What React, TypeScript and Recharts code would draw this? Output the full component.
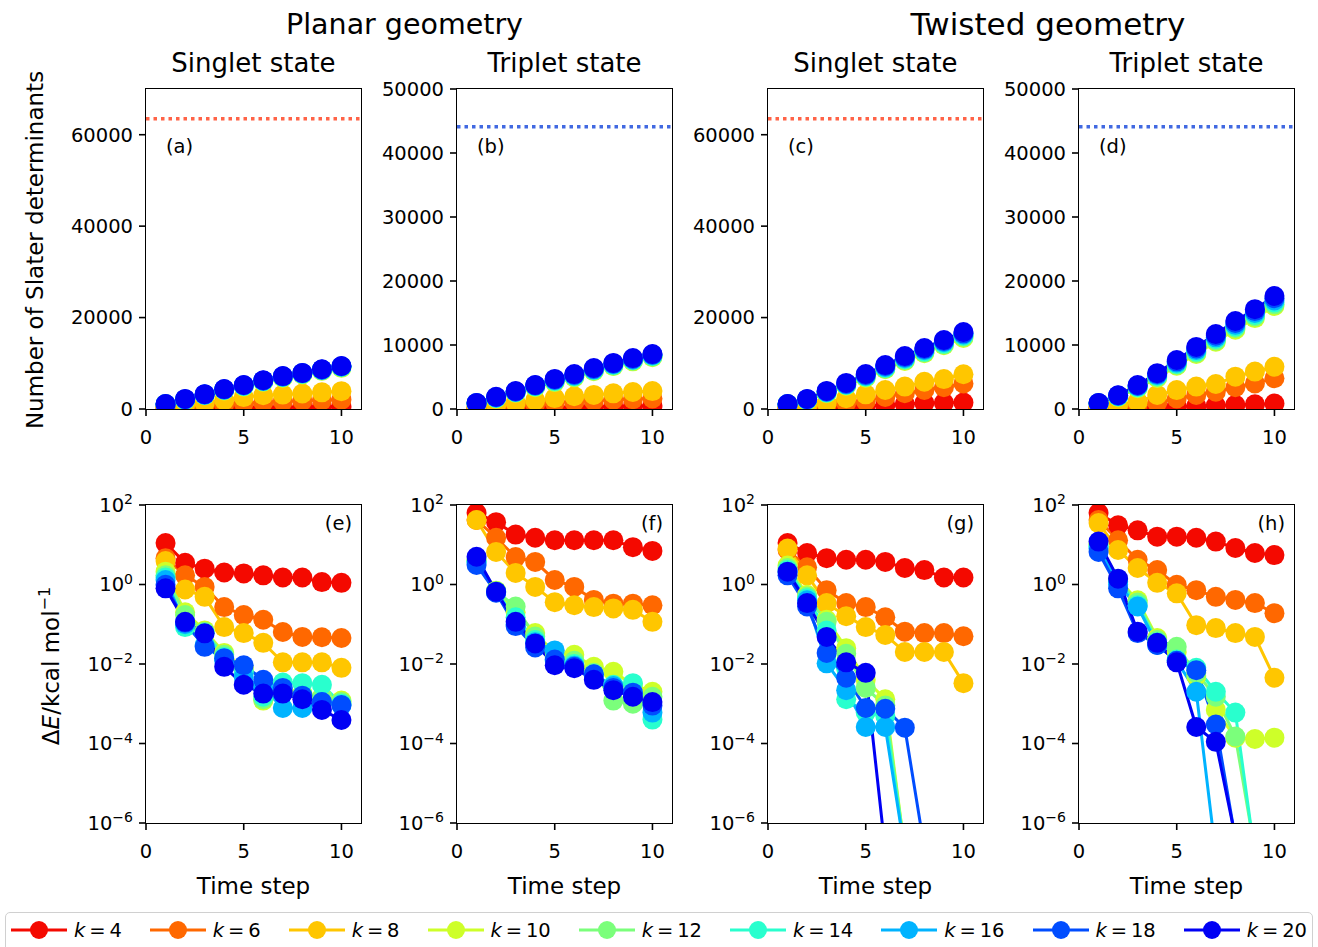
import React from 'react';
import { LineChart, Line, XAxis, YAxis, ReferenceLine } from 'recharts';

const steps = [1, 2, 3, 4, 5, 6, 7, 8, 9, 10];
const kValues = [4, 6, 8, 10, 12, 14, 16, 18, 20];
const kColors = ['#f40900', '#ff6800', '#ffc600', '#ceff29', '#7bff7b', '#29ffce', '#00b3ff', '#004dff', '#0000f4'];

// number of Slater determinants, one row per k (4..20)
const planarSingletDets = [
  [100, 150, 200, 250, 300, 350, 400, 450, 500, 550],
  [300, 550, 800, 1050, 1300, 1500, 1650, 1800, 1950, 2050],
  [500, 900, 1300, 1950, 2600, 3000, 3150, 3400, 3650, 3900],
  [1000, 1950, 3000, 4050, 4900, 5950, 6850, 7550, 8350, 9000],
  [1020, 2000, 3050, 4150, 5000, 6050, 6950, 7650, 8450, 9150],
  [1040, 2050, 3100, 4200, 5100, 6150, 7050, 7750, 8550, 9250],
  [1060, 2100, 3150, 4250, 5150, 6200, 7100, 7800, 8600, 9300],
  [1080, 2150, 3200, 4300, 5200, 6250, 7150, 7850, 8650, 9350],
  [1100, 2200, 3250, 4350, 5250, 6300, 7200, 7900, 8700, 9400],
];
const planarTripletDets = [
  [50, 100, 150, 200, 250, 300, 350, 400, 450, 500],
  [200, 400, 600, 800, 1000, 1150, 1300, 1450, 1550, 1650],
  [300, 600, 950, 1350, 1700, 2000, 2200, 2450, 2650, 2800],
  [850, 1650, 2550, 3400, 4200, 4950, 5900, 6700, 7450, 8100],
  [870, 1700, 2600, 3500, 4300, 5050, 6000, 6800, 7550, 8200],
  [890, 1750, 2650, 3600, 4400, 5150, 6100, 6900, 7650, 8300],
  [910, 1800, 2700, 3650, 4500, 5250, 6200, 7000, 7750, 8400],
  [930, 1850, 2750, 3700, 4600, 5350, 6300, 7100, 7850, 8500],
  [950, 1900, 2800, 3750, 4700, 5450, 6400, 7200, 7950, 8600],
];
const twistedSingletDets = [
  [100, 200, 300, 450, 650, 850, 1100, 1300, 1350, 1400],
  [250, 500, 900, 1300, 1700, 2650, 3450, 4150, 4750, 5600],
  [350, 700, 1300, 2350, 3200, 4150, 4900, 5950, 6550, 7600],
  [1000, 1950, 3450, 5100, 6850, 8700, 10500, 12200, 13950, 15550],
  [1020, 2000, 3550, 5200, 7000, 8850, 10700, 12400, 14150, 15800],
  [1040, 2050, 3650, 5300, 7150, 9000, 10900, 12600, 14350, 16050],
  [1060, 2100, 3750, 5400, 7300, 9200, 11100, 12850, 14600, 16300],
  [1080, 2150, 3850, 5550, 7450, 9400, 11350, 13100, 14850, 16550],
  [1100, 2200, 3950, 5700, 7650, 9600, 11600, 13350, 15100, 16850],
];
const twistedTripletDets = [
  [80, 150, 220, 300, 380, 460, 550, 650, 750, 850],
  [200, 400, 700, 1000, 1650, 2200, 2700, 3400, 4000, 4800],
  [350, 650, 1150, 2200, 2950, 3500, 3900, 5050, 5850, 6600],
  [850, 1900, 3250, 4850, 6750, 8600, 10500, 12400, 14200, 16100],
  [870, 1950, 3350, 5000, 6900, 8800, 10700, 12650, 14450, 16350],
  [890, 2000, 3450, 5150, 7050, 9000, 10950, 12900, 14700, 16650],
  [910, 2050, 3550, 5300, 7250, 9200, 11200, 13150, 15000, 16950],
  [930, 2100, 3650, 5450, 7450, 9450, 11450, 13450, 15300, 17300],
  [950, 2150, 3750, 5600, 7650, 9700, 11700, 13750, 15600, 17650],
];

// energy error in kcal/mol, one row per k (4..20); null = below the plot
const planarSingletErr = [
  [11, 3.5, 2.5, 2.0, 1.9, 1.7, 1.5, 1.5, 1.15, 1.1],
  [4.6, 1.7, 0.87, 0.27, 0.17, 0.13, 0.064, 0.048, 0.047, 0.045],
  [3.9, 0.75, 0.49, 0.085, 0.06, 0.034, 0.011, 0.011, 0.011, 0.008],
  [2.1, 0.2, 0.07, 0.019, 0.008, 0.0012, 0.0022, 0.0018, 0.0015, 0.0012],
  [1.7, 0.17, 0.065, 0.017, 0.007, 0.0013, 0.002, 0.0017, 0.0014, 0.0011],
  [1.5, 0.085, 0.06, 0.015, 0.006, 0.0015, 0.0034, 0.0033, 0.003, 0.001],
  [1.3, 0.1, 0.03, 0.012, 0.0047, 0.0025, 0.00078, 0.00078, 0.0011, 0.0009],
  [0.98, 0.11, 0.027, 0.014, 0.0093, 0.004, 0.0025, 0.0016, 0.0011, 0.00093],
  [0.8, 0.115, 0.059, 0.0085, 0.003, 0.0018, 0.0018, 0.0013, 0.0007, 0.00039],
];
const planarTripletErr = [
  [63, 37, 18, 15, 13, 13, 13, 13, 8.7, 7],
  [42, 15, 4.9, 3.7, 1.3, 0.87, 0.41, 0.33, 0.33, 0.3],
  [42, 6.6, 1.96, 0.87, 0.36, 0.3, 0.27, 0.25, 0.23, 0.115],
  [4.2, 0.7, 0.2, 0.06, 0.019, 0.017, 0.0085, 0.0064, 0.003, 0.002],
  [4.0, 0.68, 0.28, 0.049, 0.015, 0.012, 0.006, 0.0012, 0.001, 0.0015],
  [3.8, 0.66, 0.15, 0.04, 0.012, 0.01, 0.005, 0.003, 0.0033, 0.0004],
  [3.5, 0.64, 0.1, 0.035, 0.022, 0.009, 0.0055, 0.0028, 0.0018, 0.0006],
  [3.1, 0.62, 0.09, 0.026, 0.013, 0.0085, 0.0055, 0.0025, 0.0019, 0.0009],
  [5.0, 0.66, 0.115, 0.033, 0.0093, 0.0078, 0.004, 0.0022, 0.0015, 0.0011],
];
const twistedSingletErr = [
  [11, 6.2, 4.6, 4.2, 4.2, 3.7, 2.6, 2.3, 1.5, 1.5],
  [7.4, 2.7, 0.72, 0.34, 0.27, 0.15, 0.065, 0.06, 0.06, 0.05],
  [8, 1.7, 0.34, 0.16, 0.085, 0.054, 0.02, 0.02, 0.02, 0.0033],
  [3.0, 0.55, 0.13, 0.025, 0.004, 0.0013, 2e-7, null, null, null],
  [2.6, 0.5, 0.115, 0.018, 0.0025, 0.0009, 2e-7, null, null, null],
  [2.3, 0.45, 0.07, 0.0013, 0.0006, 0.0005, 2e-7, null, null, null],
  [2.0, 0.4, 0.0104, 0.0022, 0.00026, 0.00026, 1.9e-7, null, null, null],
  [1.7, 0.28, 0.019, 0.0045, 0.00078, 0.00075, 0.00025, 2.3e-7, null, null],
  [2.1, 0.34, 0.048, 0.011, 0.006, 2e-7, null, null, null, null],
];
const twistedTripletErr = [
  [63, 31, 23, 16, 16, 15, 12, 8.3, 6.2, 5.5],
  [42, 13, 4.2, 2.3, 0.98, 0.72, 0.49, 0.41, 0.34, 0.19],
  [35, 7.4, 2.6, 1.1, 0.6, 0.095, 0.08, 0.06, 0.048, 0.0045],
  [10.5, 1.35, 0.4, 0.045, 0.02, 0.005, 0.0007, 0.00014, 0.00013, 0.00014],
  [10, 1.3, 0.35, 0.04, 0.027, 0.006, 0.0015, 0.00015, 2e-7, null],
  [9, 1.2, 0.3, 0.035, 0.013, 0.008, 0.002, 0.0006, 1.5e-7, null],
  [8, 1.0, 0.28, 0.03, 0.012, 0.002, 1.6e-7, null, null, null],
  [6.6, 0.8, 0.06, 0.03, 0.012, 0.007, 0.0003, 4e-7, null, null],
  [12, 1.4, 0.065, 0.034, 0.011, 0.00026, 0.00011, 4.4e-7, null, null],
];

const singletTotal = 63504;
const tripletTotal = 44100;
const singletTicks = [0, 20000, 40000, 60000];
const tripletTicks = [0, 10000, 20000, 30000, 40000, 50000];
const errTicks = [1e-6, 1e-4, 1e-2, 1, 100];
const stepTicks = [0, 5, 10];

const FONT = '"DejaVu Sans", Verdana, sans-serif';
const PW = 215;
const YW = 95;
const MT = 22;
const MR = 12;
const XH = 50;

const toRows = (series: (number | null)[][]) =>
  steps.map((s, i) => {
    const row: any = { step: s };
    kValues.forEach((k, j) => {
      row['k' + k] = series[j][i];
    });
    return row;
  });

const LogTick = (props: any) => {
  const { x, y, payload } = props;
  const e = Math.round(Math.log10(payload.value));
  return (
    <text x={x} y={y} dy="0.355em" textAnchor="end" fill="#000" fontSize={19.5}>
      10
      <tspan dy="-0.55em" fontSize={14}>{e < 0 ? '\u2212' + -e : String(e)}</tspan>
    </text>
  );
};

interface PanelProps {
  x: number;
  y: number;
  h: number;
  series: (number | null)[][];
  log?: boolean;
  domain: number[];
  ticks: number[];
  refY?: number;
  refColor?: string;
  tag: string;
  tagRight?: boolean;
}

const Panel = ({ x, y, h, series, log, domain, ticks, refY, refColor, tag, tagRight }: PanelProps) => {
  const rows = toRows(series);
  return (
    <div style={{ position: 'absolute', left: x - YW, top: y - MT }}>
      <LineChart
        width={YW + PW + MR}
        height={MT + h + XH}
        data={rows}
        margin={{ top: MT, right: MR, left: 0, bottom: 0 }}
      >
        <XAxis
          dataKey="step"
          type="number"
          domain={[0, 11]}
          ticks={stepTicks}
          interval={0}
          height={XH}
          axisLine={false}
          tickSize={7}
          tickMargin={14}
          tickLine={{ stroke: '#000', strokeWidth: 1.6 }}
          tick={{ fill: '#000', fontSize: 19.5 }}
        />
        <YAxis
          type="number"
          scale={log ? 'log' : 'linear'}
          domain={domain}
          ticks={ticks}
          interval={0}
          width={YW}
          allowDataOverflow
          axisLine={false}
          tickSize={7}
          tickMargin={6}
          tickLine={{ stroke: '#000', strokeWidth: 1.6 }}
          tick={log ? <LogTick /> : { fill: '#000', fontSize: 19.5 }}
        />
        {refY !== undefined && (
          <ReferenceLine y={refY} stroke={refColor} strokeWidth={3.5} strokeDasharray="3.5 4" />
        )}
        {kValues.map((k, j) => (
          <Line
            key={k}
            type="linear"
            dataKey={'k' + k}
            stroke={kColors[j]}
            strokeWidth={3}
            dot={{ r: 10, fill: kColors[j], stroke: kColors[j], strokeWidth: 0 }}
            activeDot={false}
            connectNulls={false}
            isAnimationActive={false}
          />
        ))}
      </LineChart>
      <div
        style={{
          position: 'absolute',
          left: YW - 0.8,
          top: MT - 0.8,
          width: PW + 1.6,
          height: h + 1.6,
          border: '1.6px solid #000',
          boxSizing: 'border-box',
          pointerEvents: 'none',
        }}
      />
      <div
        style={{
          position: 'absolute',
          fontSize: 19.5,
          lineHeight: 1,
          whiteSpace: 'nowrap',
          top: MT + (tagRight ? 8.5 : 47.5),
          ...(tagRight ? { left: YW + PW - 9, transform: 'translateX(-100%)' } : { left: YW + 20 }),
        }}
      >
        {tag}
      </div>
    </div>
  );
};

const cols = [146, 457, 768, 1079];
const TOP_Y = 89;
const TOP_H = 320;
const BOT_Y = 505;
const BOT_H = 318;

const Centered = ({ x, y, size, children, rotate }: any) => (
  <div
    style={{
      position: 'absolute',
      left: x,
      top: y,
      fontSize: size,
      lineHeight: 1,
      whiteSpace: 'nowrap',
      transform: `translate(-50%, -50%)${rotate ? ' rotate(-90deg)' : ''}`,
    }}
  >
    {children}
  </div>
);

const LegendBox = () => (
  <div
    style={{
      position: 'absolute',
      left: 5,
      top: 912,
      width: 1308,
      height: 42,
      border: '1px solid #d0d0d0',
      borderRadius: 5,
      boxSizing: 'border-box',
      display: 'flex',
      alignItems: 'center',
      paddingLeft: 5,
      paddingBottom: 6,
      fontSize: 19.5,
      whiteSpace: 'nowrap',
    }}
  >
    {kValues.map((k, j) => (
      <div key={k} style={{ display: 'flex', alignItems: 'center', flexShrink: 0, marginRight: 28 }}>
        <svg width={56} height={20} style={{ flexShrink: 0 }}>
          <line x1={0} y1={10} x2={56} y2={10} stroke={kColors[j]} strokeWidth={3} />
          <circle cx={28} cy={10} r={9} fill={kColors[j]} />
        </svg>
        <span style={{ marginLeft: 7, whiteSpace: 'nowrap' }}>
          <i>k</i>{'\u2009=\u2009' + k}
        </span>
      </div>
    ))}
  </div>
);

export default function App() {
  const topProps = [
    { series: planarSingletDets, domain: [0, 70000], ticks: singletTicks, refY: singletTotal, refColor: '#ff6347', tag: '(a)' },
    { series: planarTripletDets, domain: [0, 50000], ticks: tripletTicks, refY: tripletTotal, refColor: '#4169e1', tag: '(b)' },
    { series: twistedSingletDets, domain: [0, 70000], ticks: singletTicks, refY: singletTotal, refColor: '#ff6347', tag: '(c)' },
    { series: twistedTripletDets, domain: [0, 50000], ticks: tripletTicks, refY: tripletTotal, refColor: '#4169e1', tag: '(d)' },
  ];
  const bottomSeries = [planarSingletErr, planarTripletErr, twistedSingletErr, twistedTripletErr];
  const bottomTags = ['(e)', '(f)', '(g)', '(h)'];
  const subtitles = ['Singlet state', 'Triplet state', 'Singlet state', 'Triplet state'];

  return (
    <div
      style={{
        position: 'absolute',
        left: 0,
        top: 0,
        width: 1318,
        height: 947,
        background: '#fff',
        fontFamily: FONT,
        color: '#000',
        overflow: 'hidden',
      }}
    >
      <Centered x={404.5} y={25} size={28.5}>Planar geometry</Centered>
      <Centered x={1048} y={24} size={31}>Twisted geometry</Centered>
      {subtitles.map((t, i) => (
        <Centered key={i} x={cols[i] + PW / 2} y={63} size={26}>{t}</Centered>
      ))}
      {topProps.map((p, i) => (
        <Panel key={'t' + i} x={cols[i]} y={TOP_Y} h={TOP_H} {...p} />
      ))}
      {bottomSeries.map((s, i) => (
        <Panel
          key={'b' + i}
          x={cols[i]}
          y={BOT_Y}
          h={BOT_H}
          series={s}
          log
          domain={[1e-6, 100]}
          ticks={errTicks}
          tag={bottomTags[i]}
          tagRight
        />
      ))}
      {cols.map((c, i) => (
        <Centered key={'xl' + i} x={c + PW / 2} y={886} size={23}>Time step</Centered>
      ))}
      <Centered x={35} y={250} size={23} rotate>Number of Slater determinants</Centered>
      <Centered x={50} y={666} size={23} rotate>
        Δ<i>E</i>/kcal mol<sup style={{ fontSize: 16 }}>−1</sup>
      </Centered>
      <LegendBox />
    </div>
  );
}
